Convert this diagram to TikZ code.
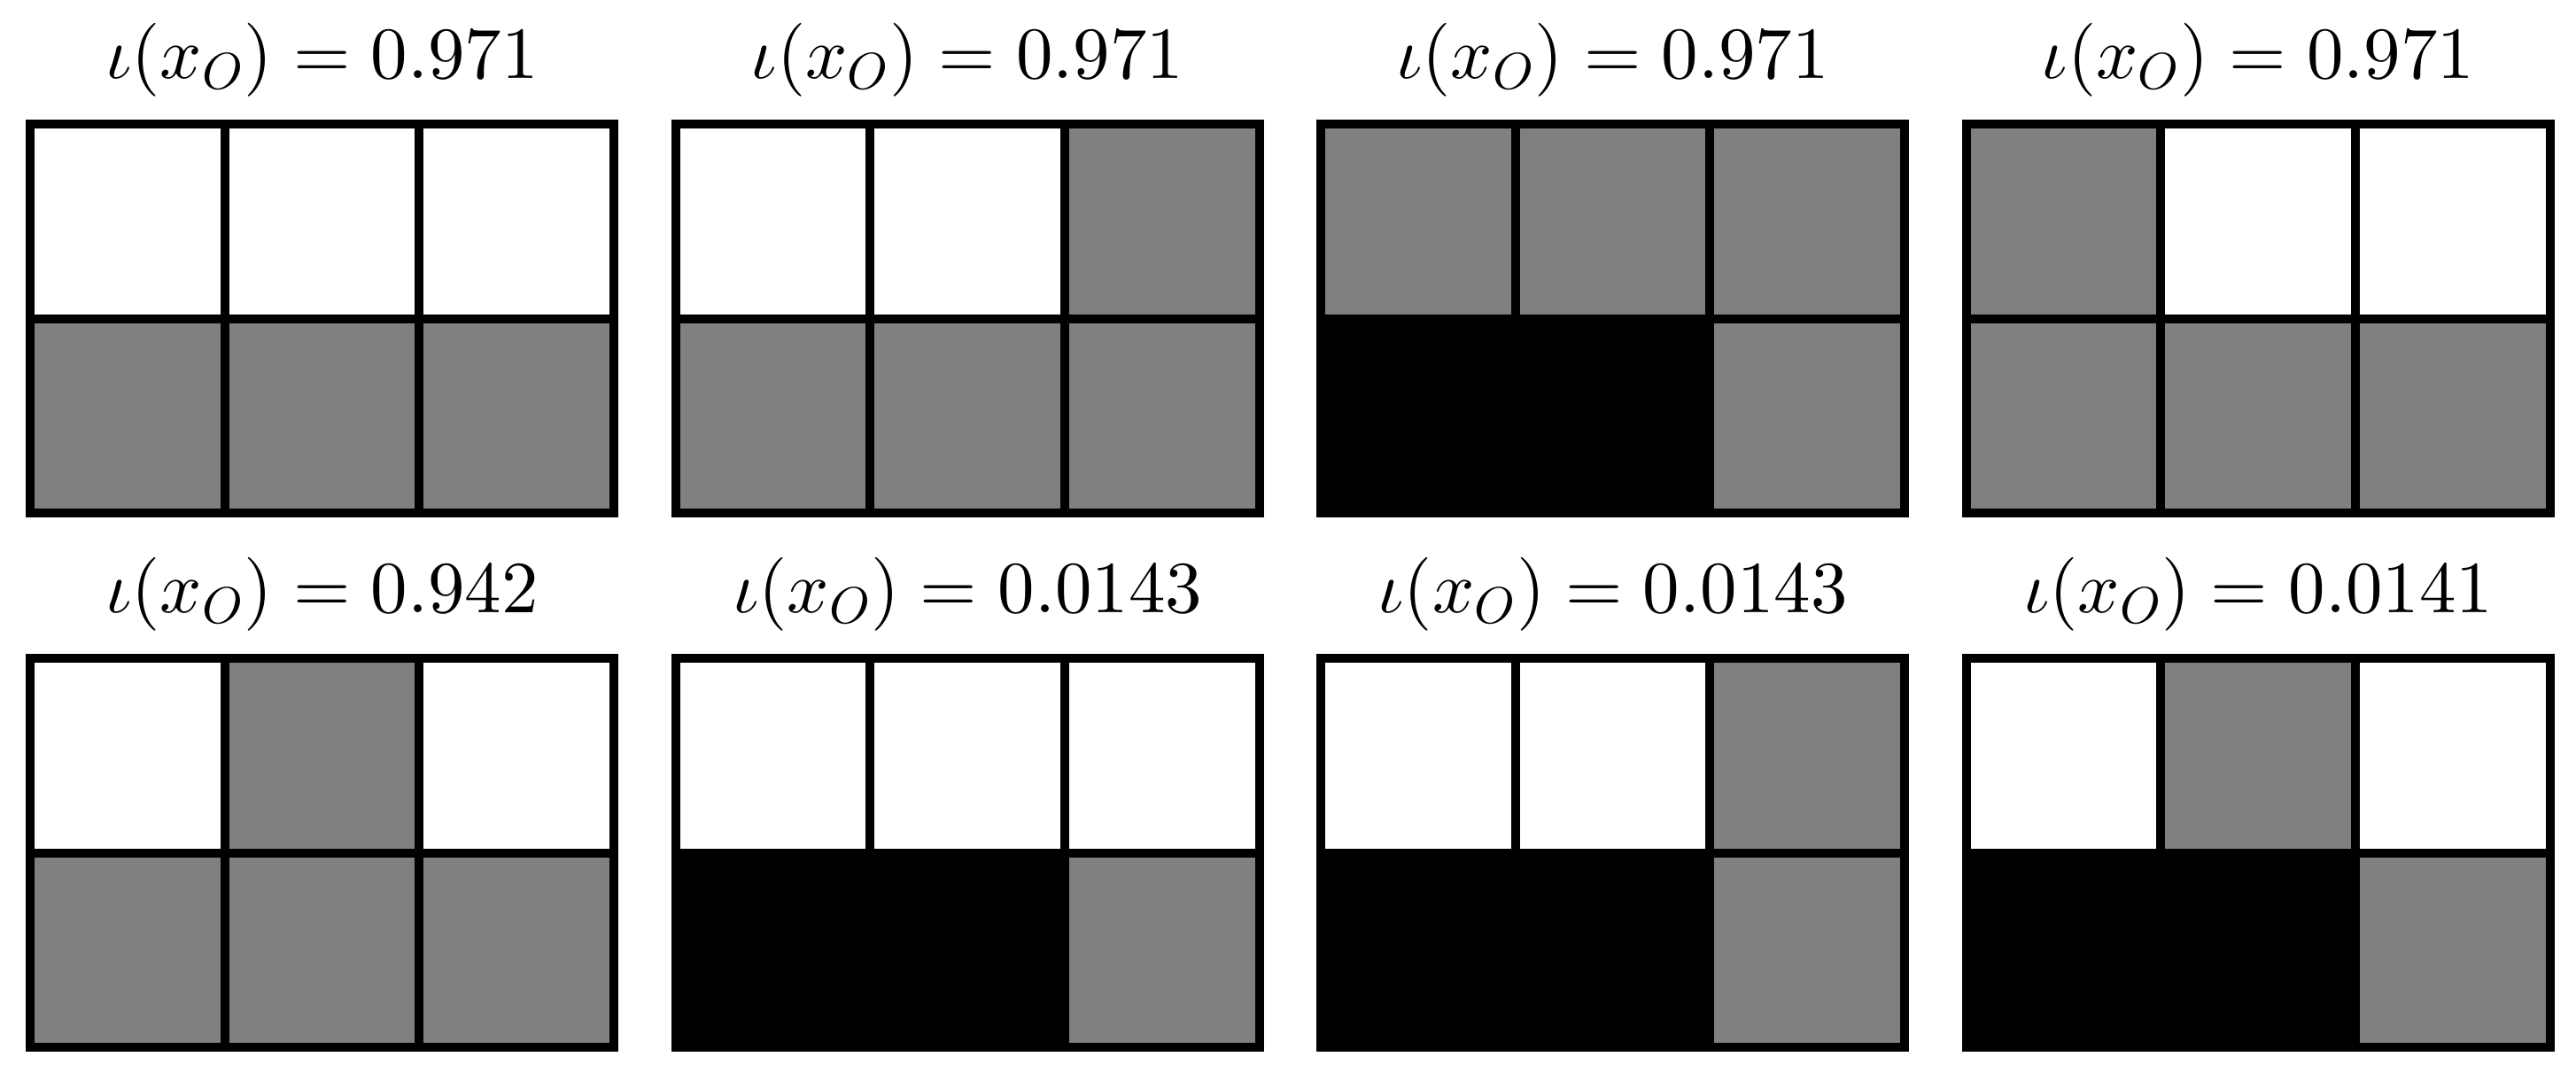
\documentclass[tikz,border=0pt]{standalone}
\usepackage{fix-cm}
\DeclareFontShape{OT1}{cmr}{m}{n}{<->cmr10}{}
\DeclareFontShape{OML}{cmm}{m}{it}{<->cmmi10}{}
\definecolor{cellgray}{RGB}{128,128,128}
\begin{document}
\begin{tikzpicture}[
  cell/.style={draw=black, line width=0.1cm, minimum width=2.197cm, minimum height=2.195cm, inner sep=0pt, outer sep=0pt},
  paneltitle/.style={anchor=base, inner sep=0pt, font=\fontsize{23.6}{28}\selectfont}
]
\useasboundingbox (0,0) rectangle (29.08,-12.18);
\foreach \n/\col/\row/\val/\ta/\tb/\tc/\ba/\bb/\bc in {
  1/0/0/0.971/white/white/white/cellgray/cellgray/cellgray,
  2/1/0/0.971/white/white/cellgray/cellgray/cellgray/cellgray,
  3/2/0/0.971/cellgray/cellgray/cellgray/black/black/cellgray,
  4/3/0/0.971/cellgray/white/white/cellgray/cellgray/cellgray,
  5/0/1/0.942/white/cellgray/white/cellgray/cellgray/cellgray,
  6/1/1/0.0143/white/white/white/black/black/cellgray,
  7/2/1/0.0143/white/white/cellgray/black/black/cellgray,
  8/3/1/0.0141/white/cellgray/white/black/black/cellgray} {
  \pgfmathsetmacro\X{0.34+7.285*\col}
  \pgfmathsetmacro\Y{-1.40-6.03*\row}
  \pgfmathsetmacro\T{-0.88-6.03*\row}
  \node[paneltitle] (t\n) at (\X+3.295, \T) {$\iota(x_O) = \val$};
  \node[cell, fill=\ta] (p\n-1-1) at (\X+1.0985, \Y-1.0975) {};
  \node[cell, fill=\tb] (p\n-1-2) at (\X+3.2955, \Y-1.0975) {};
  \node[cell, fill=\tc] (p\n-1-3) at (\X+5.4925, \Y-1.0975) {};
  \node[cell, fill=\ba] (p\n-2-1) at (\X+1.0985, \Y-3.2925) {};
  \node[cell, fill=\bb] (p\n-2-2) at (\X+3.2955, \Y-3.2925) {};
  \node[cell, fill=\bc] (p\n-2-3) at (\X+5.4925, \Y-3.2925) {};
}
\end{tikzpicture}
\end{document}
